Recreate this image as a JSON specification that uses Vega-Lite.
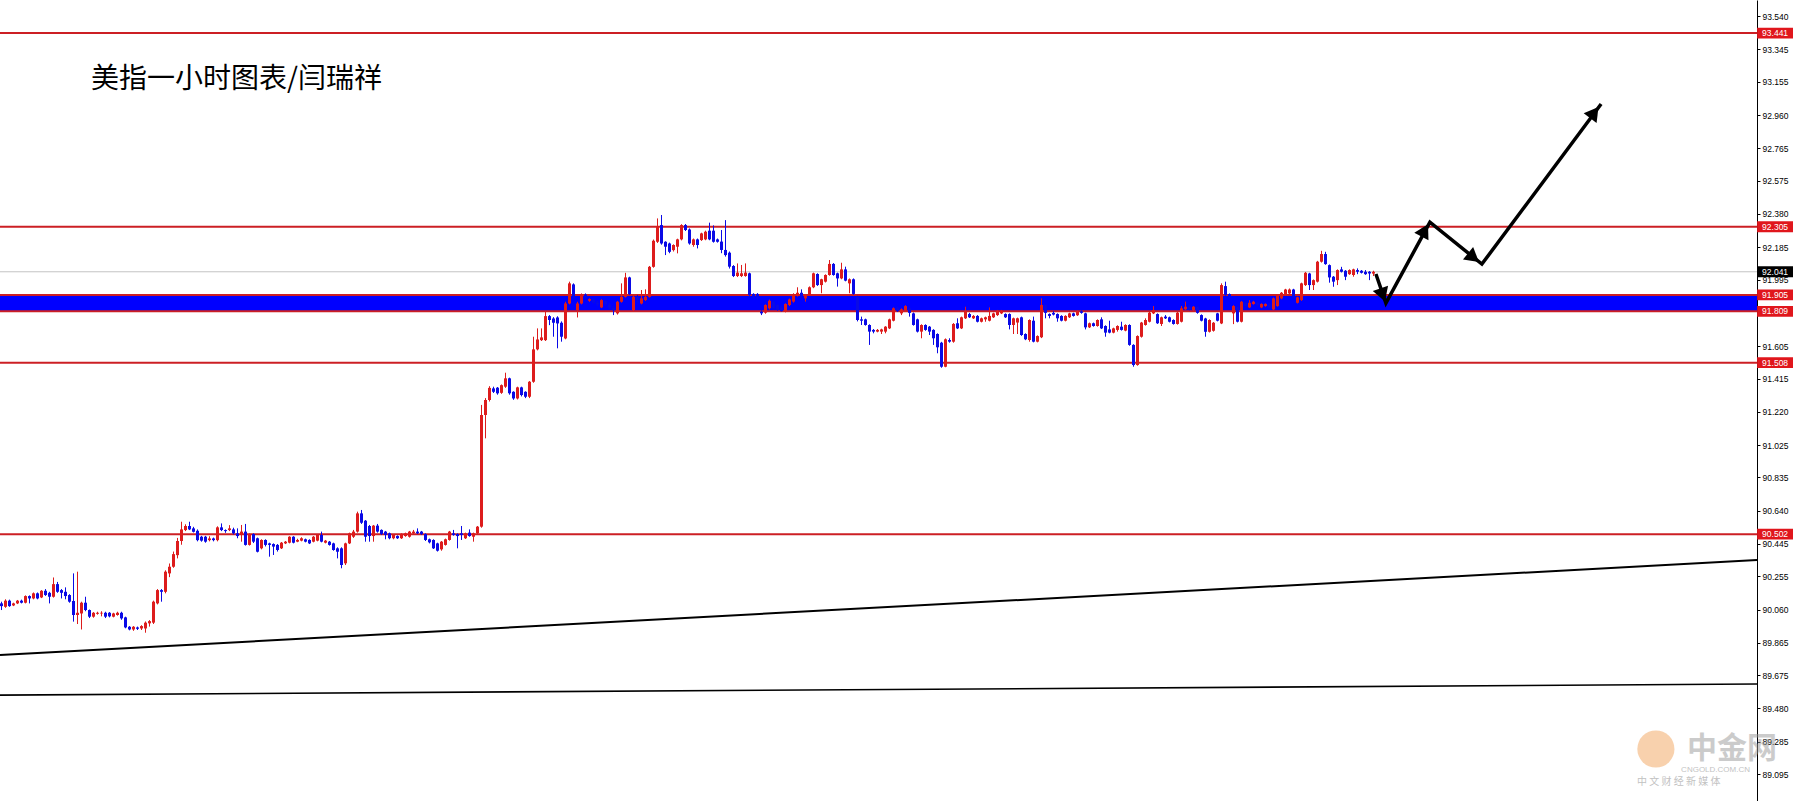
{
"$schema":"https://vega.github.io/schema/vega-lite/v6.json",
"width":1757,"height":801,
"autosize":{"type":"none"},
"padding":{"left":0,"top":0,"right":36,"bottom":0},
"background":"white",
"config":{"view":{"stroke":null},"axis":{"labelOverlap":false},"axisY":{"labelOverlap":false}},
"resolve":{"axis":{"y":"independent"}},
"datasets":{
"levels":[{"p":93.441,"k":"r"},{"p":92.305,"k":"r"},{"p":91.905,"k":"r"},{"p":91.809,"k":"r"},{"p":91.508,"k":"r"},{"p":90.502,"k":"r"},{"p":92.041,"k":"g"}],
"trend":[{"id":"a","i":-0.375,"v":89.793},{"id":"a","i":438.875,"v":90.350},{"id":"b","i":-0.375,"v":89.558},{"id":"b","i":438.875,"v":89.623}],
"arrow":[{"i":343.6,"v":92.028},{"i":346.1,"v":91.857},{"i":357.1,"v":92.332},{"i":370.1,"v":92.086},{"i":399.9,"v":93.025}],
"heads":[{"a":1,"i":345.3,"v":91.905},{"a":2,"i":355.8,"v":92.284},{"a":3,"i":368.0,"v":92.124},{"a":4,"i":398.2,"v":92.975}],
"candles":[
{"i":0,"o":90.096,"h":90.106,"l":90.057,"c":90.080},
{"i":1,"o":90.076,"h":90.120,"l":90.070,"c":90.112},
{"i":2,"o":90.112,"h":90.118,"l":90.076,"c":90.080},
{"i":3,"o":90.084,"h":90.100,"l":90.080,"c":90.096},
{"i":4,"o":90.096,"h":90.116,"l":90.092,"c":90.112},
{"i":5,"o":90.112,"h":90.118,"l":90.096,"c":90.100},
{"i":6,"o":90.100,"h":90.143,"l":90.096,"c":90.139},
{"i":7,"o":90.139,"h":90.143,"l":90.096,"c":90.125},
{"i":8,"o":90.125,"h":90.160,"l":90.120,"c":90.155},
{"i":9,"o":90.155,"h":90.160,"l":90.120,"c":90.125},
{"i":10,"o":90.131,"h":90.174,"l":90.127,"c":90.170},
{"i":11,"o":90.170,"h":90.180,"l":90.140,"c":90.145},
{"i":12,"o":90.158,"h":90.164,"l":90.096,"c":90.135},
{"i":13,"o":90.135,"h":90.248,"l":90.130,"c":90.209},
{"i":14,"o":90.209,"h":90.222,"l":90.158,"c":90.164},
{"i":15,"o":90.174,"h":90.180,"l":90.125,"c":90.158},
{"i":16,"o":90.164,"h":90.190,"l":90.120,"c":90.139},
{"i":17,"o":90.145,"h":90.150,"l":90.100,"c":90.106},
{"i":18,"o":90.110,"h":90.272,"l":89.989,"c":90.028},
{"i":19,"o":90.028,"h":90.282,"l":89.975,"c":90.041},
{"i":20,"o":90.037,"h":90.106,"l":89.943,"c":90.100},
{"i":21,"o":90.100,"h":90.135,"l":90.050,"c":90.057},
{"i":22,"o":90.057,"h":90.060,"l":90.010,"c":90.018},
{"i":23,"o":90.018,"h":90.045,"l":90.012,"c":90.041},
{"i":24,"o":90.035,"h":90.047,"l":90.030,"c":90.041},
{"i":25,"o":90.037,"h":90.050,"l":90.020,"c":90.041},
{"i":26,"o":90.041,"h":90.047,"l":90.010,"c":90.018},
{"i":27,"o":90.041,"h":90.045,"l":90.014,"c":90.020},
{"i":28,"o":90.018,"h":90.041,"l":90.014,"c":90.037},
{"i":29,"o":90.028,"h":90.047,"l":90.024,"c":90.041},
{"i":30,"o":90.041,"h":90.047,"l":90.000,"c":90.008},
{"i":31,"o":90.014,"h":90.018,"l":89.950,"c":89.955},
{"i":32,"o":89.959,"h":89.963,"l":89.938,"c":89.943},
{"i":33,"o":89.943,"h":89.963,"l":89.935,"c":89.959},
{"i":34,"o":89.955,"h":89.960,"l":89.940,"c":89.947},
{"i":35,"o":89.949,"h":89.968,"l":89.940,"c":89.963},
{"i":36,"o":89.949,"h":89.990,"l":89.924,"c":89.983},
{"i":37,"o":89.979,"h":89.998,"l":89.960,"c":89.992},
{"i":38,"o":89.983,"h":90.112,"l":89.975,"c":90.106},
{"i":39,"o":90.096,"h":90.180,"l":90.090,"c":90.174},
{"i":40,"o":90.174,"h":90.180,"l":90.106,"c":90.164},
{"i":41,"o":90.164,"h":90.290,"l":90.155,"c":90.282},
{"i":42,"o":90.272,"h":90.330,"l":90.250,"c":90.311},
{"i":43,"o":90.311,"h":90.400,"l":90.305,"c":90.385},
{"i":44,"o":90.379,"h":90.480,"l":90.360,"c":90.462},
{"i":45,"o":90.462,"h":90.575,"l":90.440,"c":90.530},
{"i":46,"o":90.526,"h":90.560,"l":90.520,"c":90.550},
{"i":47,"o":90.550,"h":90.575,"l":90.526,"c":90.530},
{"i":48,"o":90.536,"h":90.545,"l":90.512,"c":90.516},
{"i":49,"o":90.522,"h":90.530,"l":90.460,"c":90.467},
{"i":50,"o":90.487,"h":90.492,"l":90.458,"c":90.464},
{"i":51,"o":90.487,"h":90.492,"l":90.452,"c":90.458},
{"i":52,"o":90.467,"h":90.490,"l":90.460,"c":90.477},
{"i":53,"o":90.477,"h":90.482,"l":90.460,"c":90.467},
{"i":54,"o":90.467,"h":90.548,"l":90.460,"c":90.542},
{"i":55,"o":90.542,"h":90.565,"l":90.520,"c":90.526},
{"i":56,"o":90.526,"h":90.530,"l":90.510,"c":90.520},
{"i":57,"o":90.526,"h":90.555,"l":90.520,"c":90.536},
{"i":58,"o":90.530,"h":90.540,"l":90.500,"c":90.507},
{"i":59,"o":90.507,"h":90.536,"l":90.478,"c":90.491},
{"i":60,"o":90.497,"h":90.556,"l":90.458,"c":90.517},
{"i":61,"o":90.517,"h":90.562,"l":90.435,"c":90.439},
{"i":62,"o":90.439,"h":90.507,"l":90.435,"c":90.503},
{"i":63,"o":90.503,"h":90.507,"l":90.450,"c":90.458},
{"i":64,"o":90.478,"h":90.482,"l":90.395,"c":90.399},
{"i":65,"o":90.419,"h":90.472,"l":90.413,"c":90.468},
{"i":66,"o":90.468,"h":90.472,"l":90.430,"c":90.439},
{"i":67,"o":90.448,"h":90.452,"l":90.370,"c":90.439},
{"i":68,"o":90.444,"h":90.448,"l":90.380,"c":90.429},
{"i":69,"o":90.439,"h":90.444,"l":90.400,"c":90.409},
{"i":70,"o":90.419,"h":90.456,"l":90.415,"c":90.452},
{"i":71,"o":90.448,"h":90.462,"l":90.444,"c":90.458},
{"i":72,"o":90.452,"h":90.490,"l":90.448,"c":90.487},
{"i":73,"o":90.487,"h":90.490,"l":90.448,"c":90.452},
{"i":74,"o":90.458,"h":90.475,"l":90.455,"c":90.468},
{"i":75,"o":90.464,"h":90.484,"l":90.460,"c":90.478},
{"i":76,"o":90.472,"h":90.476,"l":90.454,"c":90.458},
{"i":77,"o":90.468,"h":90.472,"l":90.444,"c":90.448},
{"i":78,"o":90.458,"h":90.491,"l":90.454,"c":90.487},
{"i":79,"o":90.464,"h":90.503,"l":90.460,"c":90.497},
{"i":80,"o":90.497,"h":90.517,"l":90.454,"c":90.458},
{"i":81,"o":90.452,"h":90.468,"l":90.448,"c":90.464},
{"i":82,"o":90.458,"h":90.462,"l":90.435,"c":90.439},
{"i":83,"o":90.448,"h":90.452,"l":90.405,"c":90.409},
{"i":84,"o":90.419,"h":90.425,"l":90.360,"c":90.399},
{"i":85,"o":90.419,"h":90.425,"l":90.302,"c":90.321},
{"i":86,"o":90.331,"h":90.452,"l":90.321,"c":90.448},
{"i":87,"o":90.448,"h":90.511,"l":90.444,"c":90.507},
{"i":88,"o":90.487,"h":90.527,"l":90.480,"c":90.517},
{"i":89,"o":90.517,"h":90.634,"l":90.511,"c":90.624},
{"i":90,"o":90.624,"h":90.644,"l":90.562,"c":90.569},
{"i":91,"o":90.581,"h":90.585,"l":90.458,"c":90.487},
{"i":92,"o":90.550,"h":90.556,"l":90.458,"c":90.491},
{"i":93,"o":90.491,"h":90.556,"l":90.458,"c":90.552},
{"i":94,"o":90.552,"h":90.562,"l":90.511,"c":90.517},
{"i":95,"o":90.527,"h":90.530,"l":90.497,"c":90.503},
{"i":96,"o":90.517,"h":90.521,"l":90.472,"c":90.497},
{"i":97,"o":90.507,"h":90.511,"l":90.472,"c":90.478},
{"i":98,"o":90.478,"h":90.500,"l":90.472,"c":90.497},
{"i":99,"o":90.491,"h":90.495,"l":90.474,"c":90.478},
{"i":100,"o":90.478,"h":90.507,"l":90.474,"c":90.503},
{"i":101,"o":90.491,"h":90.511,"l":90.487,"c":90.507},
{"i":102,"o":90.487,"h":90.521,"l":90.482,"c":90.517},
{"i":103,"o":90.507,"h":90.527,"l":90.503,"c":90.517},
{"i":104,"o":90.517,"h":90.536,"l":90.503,"c":90.507},
{"i":105,"o":90.517,"h":90.521,"l":90.497,"c":90.503},
{"i":106,"o":90.503,"h":90.507,"l":90.462,"c":90.468},
{"i":107,"o":90.472,"h":90.476,"l":90.448,"c":90.454},
{"i":108,"o":90.468,"h":90.472,"l":90.415,"c":90.419},
{"i":109,"o":90.448,"h":90.452,"l":90.400,"c":90.405},
{"i":110,"o":90.413,"h":90.462,"l":90.405,"c":90.458},
{"i":111,"o":90.439,"h":90.476,"l":90.435,"c":90.472},
{"i":112,"o":90.468,"h":90.521,"l":90.464,"c":90.517},
{"i":113,"o":90.507,"h":90.527,"l":90.493,"c":90.497},
{"i":114,"o":90.503,"h":90.507,"l":90.419,"c":90.491},
{"i":115,"o":90.507,"h":90.550,"l":90.468,"c":90.497},
{"i":116,"o":90.478,"h":90.511,"l":90.474,"c":90.507},
{"i":117,"o":90.511,"h":90.530,"l":90.487,"c":90.491},
{"i":118,"o":90.487,"h":90.511,"l":90.458,"c":90.507},
{"i":119,"o":90.507,"h":90.550,"l":90.503,"c":90.546},
{"i":120,"o":90.546,"h":91.260,"l":90.540,"c":91.201},
{"i":121,"o":91.201,"h":91.300,"l":91.064,"c":91.289},
{"i":122,"o":91.289,"h":91.370,"l":91.280,"c":91.360},
{"i":123,"o":91.357,"h":91.367,"l":91.330,"c":91.337},
{"i":124,"o":91.361,"h":91.365,"l":91.320,"c":91.328},
{"i":125,"o":91.331,"h":91.380,"l":91.325,"c":91.376},
{"i":126,"o":91.367,"h":91.449,"l":91.360,"c":91.416},
{"i":127,"o":91.416,"h":91.420,"l":91.320,"c":91.328},
{"i":128,"o":91.337,"h":91.340,"l":91.290,"c":91.298},
{"i":129,"o":91.298,"h":91.367,"l":91.292,"c":91.363},
{"i":130,"o":91.363,"h":91.367,"l":91.310,"c":91.318},
{"i":131,"o":91.337,"h":91.340,"l":91.300,"c":91.308},
{"i":132,"o":91.308,"h":91.400,"l":91.300,"c":91.396},
{"i":133,"o":91.396,"h":91.660,"l":91.390,"c":91.586},
{"i":134,"o":91.586,"h":91.709,"l":91.580,"c":91.644},
{"i":135,"o":91.640,"h":91.709,"l":91.635,"c":91.656},
{"i":136,"o":91.640,"h":91.807,"l":91.635,"c":91.781},
{"i":137,"o":91.781,"h":91.787,"l":91.728,"c":91.758},
{"i":138,"o":91.767,"h":91.775,"l":91.660,"c":91.742},
{"i":139,"o":91.773,"h":91.780,"l":91.592,"c":91.738},
{"i":140,"o":91.742,"h":91.750,"l":91.631,"c":91.660},
{"i":141,"o":91.650,"h":91.865,"l":91.645,"c":91.855},
{"i":142,"o":91.855,"h":91.983,"l":91.850,"c":91.973},
{"i":143,"o":91.967,"h":91.973,"l":91.885,"c":91.894},
{"i":144,"o":91.816,"h":91.865,"l":91.773,"c":91.855},
{"i":145,"o":91.855,"h":91.914,"l":91.850,"c":91.908},
{"i":146,"o":91.908,"h":91.914,"l":91.885,"c":91.891},
{"i":147,"o":91.871,"h":91.885,"l":91.865,"c":91.881},
{"i":148,"o":91.880,"h":91.885,"l":91.855,"c":91.860},
{"i":149,"o":91.860,"h":91.870,"l":91.840,"c":91.850},
{"i":150,"o":91.832,"h":91.880,"l":91.828,"c":91.875},
{"i":151,"o":91.870,"h":91.875,"l":91.840,"c":91.850},
{"i":152,"o":91.850,"h":91.860,"l":91.820,"c":91.830},
{"i":153,"o":91.830,"h":91.840,"l":91.787,"c":91.815},
{"i":154,"o":91.797,"h":91.870,"l":91.790,"c":91.865},
{"i":155,"o":91.865,"h":91.973,"l":91.860,"c":91.894},
{"i":156,"o":91.894,"h":92.035,"l":91.890,"c":92.008},
{"i":157,"o":92.008,"h":92.012,"l":91.905,"c":91.910},
{"i":158,"o":91.816,"h":91.900,"l":91.810,"c":91.894},
{"i":159,"o":91.894,"h":91.905,"l":91.860,"c":91.875},
{"i":160,"o":91.855,"h":91.934,"l":91.850,"c":91.885},
{"i":161,"o":91.875,"h":91.938,"l":91.870,"c":91.894},
{"i":162,"o":91.894,"h":92.075,"l":91.890,"c":92.070},
{"i":163,"o":92.070,"h":92.230,"l":92.065,"c":92.223},
{"i":164,"o":92.217,"h":92.354,"l":92.210,"c":92.305},
{"i":165,"o":92.315,"h":92.374,"l":92.200,"c":92.207},
{"i":166,"o":92.217,"h":92.220,"l":92.139,"c":92.188},
{"i":167,"o":92.207,"h":92.212,"l":92.150,"c":92.158},
{"i":168,"o":92.168,"h":92.202,"l":92.160,"c":92.198},
{"i":169,"o":92.188,"h":92.235,"l":92.149,"c":92.231},
{"i":170,"o":92.231,"h":92.320,"l":92.225,"c":92.315},
{"i":171,"o":92.315,"h":92.321,"l":92.280,"c":92.286},
{"i":172,"o":92.289,"h":92.295,"l":92.200,"c":92.207},
{"i":173,"o":92.198,"h":92.236,"l":92.188,"c":92.231},
{"i":174,"o":92.231,"h":92.236,"l":92.178,"c":92.198},
{"i":175,"o":92.227,"h":92.270,"l":92.222,"c":92.266},
{"i":176,"o":92.231,"h":92.282,"l":92.226,"c":92.276},
{"i":177,"o":92.282,"h":92.329,"l":92.226,"c":92.231},
{"i":178,"o":92.282,"h":92.313,"l":92.212,"c":92.217},
{"i":179,"o":92.231,"h":92.236,"l":92.212,"c":92.217},
{"i":180,"o":92.218,"h":92.286,"l":92.150,"c":92.169},
{"i":181,"o":92.169,"h":92.344,"l":92.130,"c":92.139},
{"i":182,"o":92.153,"h":92.160,"l":92.060,"c":92.071},
{"i":183,"o":92.075,"h":92.080,"l":92.010,"c":92.016},
{"i":184,"o":92.016,"h":92.090,"l":92.010,"c":92.036},
{"i":185,"o":92.016,"h":92.081,"l":92.010,"c":92.032},
{"i":186,"o":92.016,"h":92.090,"l":92.012,"c":92.036},
{"i":187,"o":92.032,"h":92.036,"l":91.900,"c":91.905},
{"i":188,"o":91.911,"h":91.915,"l":91.885,"c":91.895},
{"i":189,"o":91.911,"h":91.916,"l":91.880,"c":91.895},
{"i":190,"o":91.807,"h":91.815,"l":91.787,"c":91.797},
{"i":191,"o":91.801,"h":91.850,"l":91.795,"c":91.846},
{"i":192,"o":91.827,"h":91.878,"l":91.820,"c":91.871},
{"i":193,"o":91.866,"h":91.870,"l":91.820,"c":91.827},
{"i":194,"o":91.846,"h":91.850,"l":91.812,"c":91.817},
{"i":195,"o":91.830,"h":91.840,"l":91.808,"c":91.810},
{"i":196,"o":91.807,"h":91.856,"l":91.803,"c":91.852},
{"i":197,"o":91.846,"h":91.884,"l":91.840,"c":91.879},
{"i":198,"o":91.866,"h":91.915,"l":91.860,"c":91.905},
{"i":199,"o":91.899,"h":91.950,"l":91.895,"c":91.918},
{"i":200,"o":91.918,"h":91.938,"l":91.890,"c":91.895},
{"i":201,"o":91.885,"h":91.910,"l":91.866,"c":91.905},
{"i":202,"o":91.905,"h":91.955,"l":91.900,"c":91.950},
{"i":203,"o":91.950,"h":92.036,"l":91.945,"c":92.032},
{"i":204,"o":92.028,"h":92.032,"l":91.958,"c":91.963},
{"i":205,"o":91.963,"h":92.000,"l":91.915,"c":91.997},
{"i":206,"o":91.983,"h":92.026,"l":91.978,"c":92.022},
{"i":207,"o":92.022,"h":92.110,"l":92.018,"c":92.087},
{"i":208,"o":92.087,"h":92.092,"l":92.018,"c":92.022},
{"i":209,"o":92.032,"h":92.036,"l":91.954,"c":92.002},
{"i":210,"o":92.002,"h":92.094,"l":91.997,"c":92.055},
{"i":211,"o":92.055,"h":92.071,"l":91.985,"c":91.989},
{"i":212,"o":91.973,"h":92.002,"l":91.915,"c":91.997},
{"i":213,"o":91.997,"h":92.002,"l":91.905,"c":91.911},
{"i":214,"o":91.895,"h":91.900,"l":91.750,"c":91.758},
{"i":215,"o":91.762,"h":91.778,"l":91.729,"c":91.754},
{"i":216,"o":91.762,"h":91.766,"l":91.725,"c":91.729},
{"i":217,"o":91.729,"h":91.733,"l":91.612,"c":91.690},
{"i":218,"o":91.700,"h":91.705,"l":91.680,"c":91.690},
{"i":219,"o":91.690,"h":91.705,"l":91.686,"c":91.700},
{"i":220,"o":91.690,"h":91.707,"l":91.676,"c":91.703},
{"i":221,"o":91.690,"h":91.722,"l":91.680,"c":91.719},
{"i":222,"o":91.709,"h":91.766,"l":91.705,"c":91.762},
{"i":223,"o":91.754,"h":91.832,"l":91.750,"c":91.827},
{"i":224,"o":91.827,"h":91.835,"l":91.805,"c":91.810},
{"i":225,"o":91.797,"h":91.826,"l":91.787,"c":91.821},
{"i":226,"o":91.813,"h":91.845,"l":91.808,"c":91.840},
{"i":227,"o":91.827,"h":91.832,"l":91.778,"c":91.800},
{"i":228,"o":91.797,"h":91.802,"l":91.725,"c":91.729},
{"i":229,"o":91.762,"h":91.766,"l":91.685,"c":91.690},
{"i":230,"o":91.690,"h":91.733,"l":91.651,"c":91.729},
{"i":231,"o":91.729,"h":91.733,"l":91.695,"c":91.700},
{"i":232,"o":91.719,"h":91.723,"l":91.670,"c":91.690},
{"i":233,"o":91.700,"h":91.704,"l":91.612,"c":91.651},
{"i":234,"o":91.676,"h":91.680,"l":91.563,"c":91.598},
{"i":235,"o":91.625,"h":91.630,"l":91.478,"c":91.484},
{"i":236,"o":91.484,"h":91.650,"l":91.481,"c":91.645},
{"i":237,"o":91.641,"h":91.651,"l":91.625,"c":91.631},
{"i":238,"o":91.631,"h":91.740,"l":91.625,"c":91.735},
{"i":239,"o":91.739,"h":91.768,"l":91.705,"c":91.709},
{"i":240,"o":91.709,"h":91.778,"l":91.705,"c":91.774},
{"i":241,"o":91.768,"h":91.836,"l":91.764,"c":91.807},
{"i":242,"o":91.793,"h":91.800,"l":91.770,"c":91.774},
{"i":243,"o":91.768,"h":91.787,"l":91.764,"c":91.782},
{"i":244,"o":91.782,"h":91.787,"l":91.744,"c":91.748},
{"i":245,"o":91.748,"h":91.772,"l":91.744,"c":91.768},
{"i":246,"o":91.762,"h":91.778,"l":91.748,"c":91.774},
{"i":247,"o":91.754,"h":91.832,"l":91.750,"c":91.782},
{"i":248,"o":91.774,"h":91.801,"l":91.770,"c":91.797},
{"i":249,"o":91.787,"h":91.817,"l":91.782,"c":91.813},
{"i":250,"o":91.797,"h":91.817,"l":91.793,"c":91.813},
{"i":251,"o":91.793,"h":91.797,"l":91.770,"c":91.774},
{"i":252,"o":91.793,"h":91.797,"l":91.703,"c":91.729},
{"i":253,"o":91.729,"h":91.772,"l":91.676,"c":91.768},
{"i":254,"o":91.743,"h":91.772,"l":91.676,"c":91.768},
{"i":255,"o":91.774,"h":91.778,"l":91.665,"c":91.670},
{"i":256,"o":91.676,"h":91.680,"l":91.640,"c":91.645},
{"i":257,"o":91.641,"h":91.762,"l":91.631,"c":91.758},
{"i":258,"o":91.754,"h":91.778,"l":91.627,"c":91.631},
{"i":259,"o":91.631,"h":91.668,"l":91.627,"c":91.664},
{"i":260,"o":91.657,"h":91.885,"l":91.652,"c":91.846},
{"i":261,"o":91.846,"h":91.850,"l":91.768,"c":91.800},
{"i":262,"o":91.793,"h":91.797,"l":91.768,"c":91.782},
{"i":263,"o":91.800,"h":91.810,"l":91.785,"c":91.790},
{"i":264,"o":91.793,"h":91.797,"l":91.748,"c":91.768},
{"i":265,"o":91.782,"h":91.786,"l":91.750,"c":91.754},
{"i":266,"o":91.754,"h":91.786,"l":91.750,"c":91.782},
{"i":267,"o":91.774,"h":91.801,"l":91.770,"c":91.797},
{"i":268,"o":91.797,"h":91.801,"l":91.778,"c":91.782},
{"i":269,"o":91.786,"h":91.815,"l":91.782,"c":91.809},
{"i":270,"o":91.809,"h":91.815,"l":91.795,"c":91.800},
{"i":271,"o":91.797,"h":91.801,"l":91.703,"c":91.715},
{"i":272,"o":91.715,"h":91.743,"l":91.711,"c":91.739},
{"i":273,"o":91.739,"h":91.743,"l":91.719,"c":91.723},
{"i":274,"o":91.723,"h":91.762,"l":91.719,"c":91.758},
{"i":275,"o":91.762,"h":91.774,"l":91.705,"c":91.709},
{"i":276,"o":91.723,"h":91.727,"l":91.660,"c":91.684},
{"i":277,"o":91.703,"h":91.754,"l":91.680,"c":91.684},
{"i":278,"o":91.684,"h":91.713,"l":91.680,"c":91.709},
{"i":279,"o":91.700,"h":91.727,"l":91.690,"c":91.723},
{"i":280,"o":91.719,"h":91.748,"l":91.696,"c":91.700},
{"i":281,"o":91.696,"h":91.733,"l":91.692,"c":91.729},
{"i":282,"o":91.729,"h":91.733,"l":91.607,"c":91.612},
{"i":283,"o":91.612,"h":91.616,"l":91.484,"c":91.494},
{"i":284,"o":91.494,"h":91.668,"l":91.490,"c":91.664},
{"i":285,"o":91.660,"h":91.747,"l":91.655,"c":91.743},
{"i":286,"o":91.729,"h":91.768,"l":91.725,"c":91.758},
{"i":287,"o":91.748,"h":91.807,"l":91.744,"c":91.801},
{"i":288,"o":91.797,"h":91.840,"l":91.793,"c":91.817},
{"i":289,"o":91.793,"h":91.797,"l":91.735,"c":91.739},
{"i":290,"o":91.735,"h":91.778,"l":91.723,"c":91.774},
{"i":291,"o":91.778,"h":91.787,"l":91.764,"c":91.768},
{"i":292,"o":91.774,"h":91.778,"l":91.744,"c":91.748},
{"i":293,"o":91.758,"h":91.762,"l":91.731,"c":91.735},
{"i":294,"o":91.735,"h":91.805,"l":91.731,"c":91.801},
{"i":295,"o":91.748,"h":91.840,"l":91.744,"c":91.827},
{"i":296,"o":91.821,"h":91.866,"l":91.817,"c":91.836},
{"i":297,"o":91.836,"h":91.845,"l":91.815,"c":91.820},
{"i":298,"o":91.817,"h":91.840,"l":91.807,"c":91.836},
{"i":299,"o":91.836,"h":91.840,"l":91.795,"c":91.800},
{"i":300,"o":91.787,"h":91.791,"l":91.750,"c":91.754},
{"i":301,"o":91.767,"h":91.771,"l":91.660,"c":91.689},
{"i":302,"o":91.689,"h":91.762,"l":91.685,"c":91.758},
{"i":303,"o":91.695,"h":91.746,"l":91.690,"c":91.742},
{"i":304,"o":91.797,"h":91.800,"l":91.750,"c":91.754},
{"i":305,"o":91.738,"h":91.973,"l":91.734,"c":91.963},
{"i":306,"o":91.957,"h":91.983,"l":91.900,"c":91.904},
{"i":307,"o":91.910,"h":91.914,"l":91.885,"c":91.895},
{"i":308,"o":91.797,"h":91.845,"l":91.734,"c":91.840},
{"i":309,"o":91.836,"h":91.840,"l":91.744,"c":91.748},
{"i":310,"o":91.748,"h":91.870,"l":91.744,"c":91.865},
{"i":311,"o":91.860,"h":91.866,"l":91.835,"c":91.840},
{"i":312,"o":91.832,"h":91.875,"l":91.828,"c":91.859},
{"i":313,"o":91.852,"h":91.870,"l":91.848,"c":91.865},
{"i":314,"o":91.860,"h":91.866,"l":91.840,"c":91.845},
{"i":315,"o":91.832,"h":91.856,"l":91.828,"c":91.852},
{"i":316,"o":91.840,"h":91.856,"l":91.836,"c":91.852},
{"i":317,"o":91.850,"h":91.855,"l":91.825,"c":91.830},
{"i":318,"o":91.820,"h":91.890,"l":91.816,"c":91.885},
{"i":319,"o":91.840,"h":91.908,"l":91.836,"c":91.904},
{"i":320,"o":91.885,"h":91.922,"l":91.880,"c":91.918},
{"i":321,"o":91.904,"h":91.941,"l":91.900,"c":91.937},
{"i":322,"o":91.914,"h":91.943,"l":91.910,"c":91.937},
{"i":323,"o":91.937,"h":91.941,"l":91.890,"c":91.895},
{"i":324,"o":91.859,"h":91.895,"l":91.855,"c":91.891},
{"i":325,"o":91.875,"h":91.977,"l":91.870,"c":91.973},
{"i":326,"o":91.963,"h":92.040,"l":91.958,"c":92.035},
{"i":327,"o":92.031,"h":92.035,"l":91.934,"c":91.963},
{"i":328,"o":91.963,"h":91.996,"l":91.934,"c":91.992},
{"i":329,"o":91.983,"h":92.105,"l":91.978,"c":92.100},
{"i":330,"o":92.100,"h":92.164,"l":92.095,"c":92.145},
{"i":331,"o":92.145,"h":92.158,"l":92.082,"c":92.086},
{"i":332,"o":92.080,"h":92.084,"l":91.977,"c":92.008},
{"i":333,"o":92.012,"h":92.016,"l":91.953,"c":91.983},
{"i":334,"o":91.992,"h":92.055,"l":91.963,"c":92.051},
{"i":335,"o":92.055,"h":92.070,"l":92.037,"c":92.041},
{"i":336,"o":92.047,"h":92.051,"l":91.992,"c":92.012},
{"i":337,"o":92.027,"h":92.055,"l":92.023,"c":92.051},
{"i":338,"o":92.022,"h":92.059,"l":92.012,"c":92.055},
{"i":339,"o":92.051,"h":92.061,"l":92.027,"c":92.041},
{"i":340,"o":92.047,"h":92.051,"l":92.031,"c":92.035},
{"i":341,"o":92.041,"h":92.051,"l":92.023,"c":92.027},
{"i":342,"o":92.041,"h":92.045,"l":91.992,"c":92.031},
{"i":343,"o":92.030,"h":92.047,"l":92.016,"c":92.041}
]},
"layer":[
{"data":{"values":[{"lo":91.809,"hi":91.905}]},
 "mark":{"type":"rect","color":"#0000ff"},
 "encoding":{
  "x":{"datum":-0.375,"type":"quantitative","scale":{"domain":[-0.375,438.875],"nice":false,"zero":false,"padding":0},"axis":null},
  "x2":{"datum":438.875},
  "y":{"field":"hi","type":"quantitative","scale":{"domain":[88.937,93.635],"nice":false,"zero":false,"padding":0},
   "axis":{"orient":"right","title":null,"grid":false,"format":".3f",
    "values":[93.540,93.345,93.155,92.960,92.765,92.575,92.380,92.185,91.995,91.605,91.415,91.220,91.025,90.835,90.640,90.445,90.255,90.060,89.865,89.675,89.480,89.285,89.095],
    "labelFont":"Liberation Sans","labelFontSize":8.5,"labelColor":"#000000","tickColor":"#000000","tickSize":3,"domainColor":"#000000","domainWidth":1,"labelPadding":2,"labelOverlap":false,"labelFlush":false,"labelBound":false,"labelSeparation":0}},
  "y2":{"field":"lo"}}},
{"data":{"name":"levels"},"transform":[{"filter":"datum.k == 'r'"}],
 "mark":{"type":"rule","color":"#cc1f24","strokeWidth":2},
 "encoding":{"y":{"field":"p","type":"quantitative","axis":null}}},
{"data":{"name":"levels"},"transform":[{"filter":"datum.k == 'g'"}],
 "mark":{"type":"rule","color":"#c4c4c4","strokeWidth":1},
 "encoding":{"y":{"field":"p","type":"quantitative","axis":null}}},
{"data":{"name":"candles"},
 "mark":{"type":"rule","strokeWidth":1},
 "encoding":{"x":{"field":"i","type":"quantitative"},"y":{"field":"l","type":"quantitative","axis":null},"y2":{"field":"h"},
  "color":{"condition":{"test":"datum.c >= datum.o","value":"#dd1c1c"},"value":"#0a0ae6"}}},
{"data":{"name":"candles"},
 "mark":{"type":"bar","width":3},
 "encoding":{"x":{"field":"i","type":"quantitative"},"y":{"field":"o","type":"quantitative","axis":null},"y2":{"field":"c"},
  "color":{"condition":{"test":"datum.c >= datum.o","value":"#dd1c1c"},"value":"#0a0ae6"}}},
{"data":{"name":"trend"},"transform":[{"filter":"datum.id == 'a'"}],
 "mark":{"type":"line","color":"#000000","strokeWidth":2},
 "encoding":{"x":{"field":"i","type":"quantitative"},"y":{"field":"v","type":"quantitative","axis":null}}},
{"data":{"name":"trend"},"transform":[{"filter":"datum.id == 'b'"}],
 "mark":{"type":"line","color":"#000000","strokeWidth":1.6},
 "encoding":{"x":{"field":"i","type":"quantitative"},"y":{"field":"v","type":"quantitative","axis":null}}},
{"data":{"name":"arrow"},
 "mark":{"type":"line","color":"#000000","strokeWidth":3.5},
 "encoding":{"x":{"field":"i","type":"quantitative"},"y":{"field":"v","type":"quantitative","axis":null},"order":{"field":"i"}}},
{"data":{"name":"heads"},"transform":[{"filter":"datum.a == 1"}],
 "mark":{"type":"point","shape":"triangle-up","filled":true,"color":"#000000","opacity":1,"size":260,"angle":161},
 "encoding":{"x":{"field":"i","type":"quantitative"},"y":{"field":"v","type":"quantitative","axis":null}}},
{"data":{"name":"heads"},"transform":[{"filter":"datum.a == 2"}],
 "mark":{"type":"point","shape":"triangle-up","filled":true,"color":"#000000","opacity":1,"size":260,"angle":28.5},
 "encoding":{"x":{"field":"i","type":"quantitative"},"y":{"field":"v","type":"quantitative","axis":null}}},
{"data":{"name":"heads"},"transform":[{"filter":"datum.a == 3"}],
 "mark":{"type":"point","shape":"triangle-up","filled":true,"color":"#000000","opacity":1,"size":260,"angle":129},
 "encoding":{"x":{"field":"i","type":"quantitative"},"y":{"field":"v","type":"quantitative","axis":null}}},
{"data":{"name":"heads"},"transform":[{"filter":"datum.a == 4"}],
 "mark":{"type":"point","shape":"triangle-up","filled":true,"color":"#000000","opacity":1,"size":260,"angle":36.6},
 "encoding":{"x":{"field":"i","type":"quantitative"},"y":{"field":"v","type":"quantitative","axis":null}}},
{"data":{"values":[{}]},
 "mark":{"type":"text","font":"Noto Sans CJK SC","fontSize":28,"color":"#000000","align":"left","baseline":"middle"},
 "encoding":{"x":{"datum":22.4},"y":{"datum":93.165,"axis":null},"text":{"value":"美指一小时图表/闫瑞祥"}}},
{"data":{"values":[{}]},
 "mark":{"type":"point","shape":"circle","filled":true,"color":"#ef9a4a","opacity":0.45,"size":1380},
 "encoding":{"x":{"datum":413.6},"y":{"datum":89.242,"axis":null}}},
{"data":{"values":[{}]},
 "mark":{"type":"text","font":"Noto Sans CJK SC","fontSize":30,"fontWeight":"bold","color":"#999999","opacity":0.5,"align":"left","baseline":"middle"},
 "encoding":{"x":{"datum":421.4},"y":{"datum":89.242,"axis":null},"text":{"value":"中金网"}}},
{"data":{"values":[{}]},
 "mark":{"type":"text","font":"Liberation Sans","fontSize":8,"color":"#999999","opacity":0.6,"align":"left","baseline":"middle"},
 "encoding":{"x":{"datum":419.9},"y":{"datum":89.118,"axis":null},"text":{"value":"CNGOLD.COM.CN"}}},
{"data":{"values":[{}]},
 "mark":{"type":"text","font":"Noto Sans CJK SC","fontSize":10,"color":"#999999","opacity":0.6,"align":"left","baseline":"middle"},
 "encoding":{"x":{"datum":408.9},"y":{"datum":89.048,"axis":null},"text":{"value":"中  文  财  经  新  媒  体"}}},
{"data":{"name":"levels"},
 "mark":{"type":"point","shape":"M-1,-0.3L1,-0.3L1,0.3L-1,0.3Z","filled":true,"opacity":1,"size":1296},
 "encoding":{"x":{"datum":443.4},"y":{"field":"p","type":"quantitative","axis":null},
  "color":{"condition":{"test":"datum.k == 'g'","value":"#000000"},"value":"#e0161c"}}},
{"data":{"name":"levels"},
 "mark":{"type":"text","font":"Liberation Sans","fontSize":8.5,"color":"#ffffff","align":"center","baseline":"middle"},
 "encoding":{"x":{"datum":443.4},"y":{"field":"p","type":"quantitative","axis":null},"text":{"field":"p","type":"quantitative","format":".3f"}}}
]
}
